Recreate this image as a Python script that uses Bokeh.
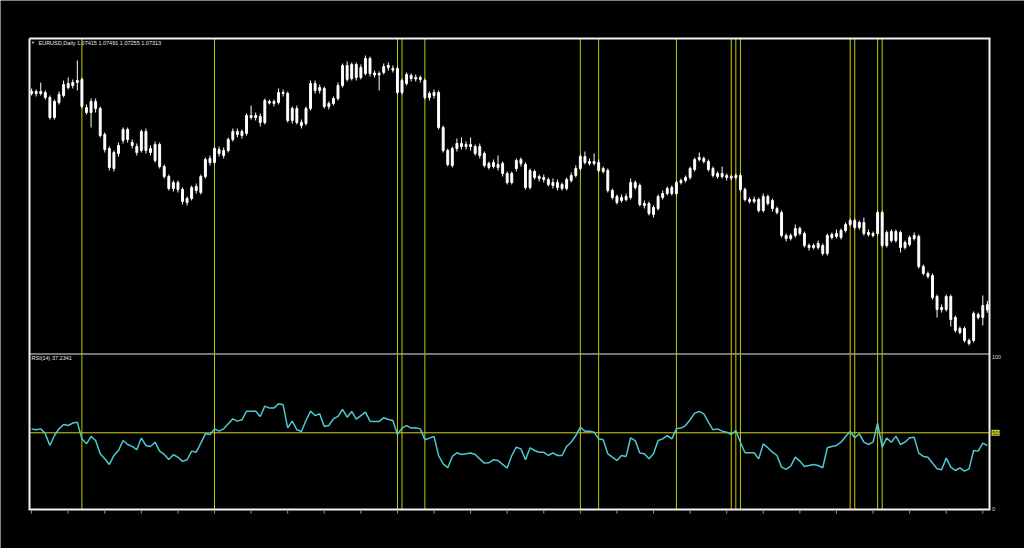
from bokeh.plotting import figure
from bokeh.models import ColumnDataSource, Range1d, Label
from bokeh.embed import file_html
from bokeh.resources import INLINE

# ---------------- data ----------------
title_text = "EURUSD,Daily  1.07415 1.07491 1.07255 1.07313"
rsi_title = "RSI(14) 37.2341"
rsi_level_values = [100, 50, 0]
rsi_level_labels = ["100", "50", "0"]

opens = [1.1164, 1.1168, 1.1164, 1.1166, 1.1156, 1.1116, 1.1146, 1.1160, 1.1176, 1.1180,
         1.1186, 1.1192, 1.1136, 1.1126, 1.1148, 1.1134, 1.1082, 1.1054, 1.1014, 1.1044,
         1.1070, 1.1092, 1.1066, 1.1058, 1.1050, 1.1088, 1.1054, 1.1030, 1.1062, 1.1018,
         1.0998, 1.0974, 1.0986, 1.0972, 1.0954, 1.0954, 1.0978, 1.0966, 1.0998, 1.1026,
         1.1026, 1.1052, 1.1050, 1.1050, 1.1072, 1.1088, 1.1080, 1.1084, 1.1120, 1.1116,
         1.1118, 1.1106, 1.1148, 1.1144, 1.1146, 1.1166, 1.1164, 1.1110, 1.1134, 1.1106,
         1.1104, 1.1134, 1.1184, 1.1170, 1.1174, 1.1144, 1.1144, 1.1154, 1.1180, 1.1220,
         1.1194, 1.1222, 1.1196, 1.1204, 1.1234, 1.1205, 1.1201, 1.1206, 1.1216, 1.1214,
         1.1214, 1.1166, 1.1184, 1.1200, 1.1196, 1.1192, 1.1190, 1.1164, 1.1160, 1.1166,
         1.1096, 1.1050, 1.1020, 1.1054, 1.1064, 1.1058, 1.1062, 1.1058, 1.1058, 1.1044,
         1.1024, 1.1018, 1.1022, 1.1024, 1.1004, 1.0986, 1.1014, 1.1032, 1.1022, 1.0976,
         1.1008, 1.0998, 1.0996, 1.0992, 1.0986, 1.0986, 1.0982, 1.0974, 1.0990, 1.1000,
         1.1014, 1.1038, 1.1024, 1.1028, 1.1026, 1.1014, 1.1010, 1.0970, 1.0958, 1.0950,
         1.0952, 1.0956, 1.0986, 1.0980, 1.0944, 1.0944, 1.0922, 1.0934, 1.0956, 1.0964,
         1.0976, 1.0964, 1.0986, 1.0990, 1.0996, 1.1012, 1.1032, 1.1034, 1.1028, 1.1014,
         1.1004, 1.0998, 1.1000, 1.0998, 1.0996, 1.1000, 1.0972, 1.0952, 1.0948, 1.0952,
         1.0930, 1.0958, 1.0950, 1.0934, 1.0926, 1.0880, 1.0874, 1.0880, 1.0894, 1.0884,
         1.0860, 1.0856, 1.0856, 1.0860, 1.0844, 1.0882, 1.0878, 1.0876, 1.0890, 1.0902,
         1.0910, 1.0896, 1.0906, 1.0886, 1.0884, 1.0884, 1.0926, 1.0860, 1.0888, 1.0870,
         1.0886, 1.0866, 1.0862, 1.0874, 1.0878, 1.0818, 1.0804, 1.0800, 1.0758, 1.0732,
         1.0732, 1.0758, 1.0716, 1.0694, 1.0694, 1.0670, 1.0670, 1.0722, 1.0716, 1.07415]

highs = [1.1174, 1.1172, 1.1186, 1.1170, 1.1160, 1.1152, 1.1168, 1.1190, 1.1196, 1.1192,
         1.1230, 1.1196, 1.1142, 1.1154, 1.1154, 1.1138, 1.1086, 1.1058, 1.1050, 1.1066,
         1.1096, 1.1096, 1.1072, 1.1064, 1.1092, 1.1094, 1.1060, 1.1068, 1.1066, 1.1022,
         1.1002, 1.0990, 1.0990, 1.0976, 1.0958, 1.0980, 1.0984, 1.1002, 1.1036, 1.1040,
         1.1058, 1.1058, 1.1056, 1.1076, 1.1094, 1.1094, 1.1092, 1.1124, 1.1140, 1.1126,
         1.1124, 1.1154, 1.1152, 1.1152, 1.1174, 1.1172, 1.1168, 1.1138, 1.1140, 1.1112,
         1.1138, 1.1190, 1.1190, 1.1182, 1.1178, 1.1148, 1.1158, 1.1186, 1.1224, 1.1228,
         1.1226, 1.1226, 1.1222, 1.1240, 1.1238, 1.1210, 1.1208, 1.1224, 1.1226, 1.1220,
         1.1218, 1.1194, 1.1206, 1.1204, 1.1202, 1.1200, 1.1194, 1.1168, 1.1172, 1.1170,
         1.1100, 1.1054, 1.1058, 1.1074, 1.1076, 1.1068, 1.1076, 1.1062, 1.1064, 1.1048,
         1.1028, 1.1032, 1.1040, 1.1028, 1.1008, 1.1008, 1.1034, 1.1036, 1.1026, 1.1014,
         1.1012, 1.1002, 1.1002, 1.0996, 1.0994, 1.0992, 1.0986, 1.0996, 1.1006, 1.1020,
         1.1042, 1.1048, 1.1034, 1.1044, 1.1032, 1.1018, 1.1014, 1.0974, 1.0962, 1.0962,
         1.0964, 1.0994, 1.0990, 1.0984, 1.0950, 1.0948, 1.0940, 1.0962, 1.0970, 1.0978,
         1.0980, 1.0990, 1.0994, 1.1000, 1.1018, 1.1036, 1.1046, 1.1038, 1.1032, 1.1018,
         1.1008, 1.1018, 1.1004, 1.1002, 1.1004, 1.1004, 1.0976, 1.0956, 1.0958, 1.0956,
         1.0964, 1.0962, 1.0954, 1.0938, 1.0930, 1.0884, 1.0884, 1.0902, 1.0898, 1.0888,
         1.0864, 1.0864, 1.0870, 1.0864, 1.0884, 1.0886, 1.0892, 1.0894, 1.0906, 1.0914,
         1.0914, 1.0910, 1.0916, 1.0892, 1.0888, 1.0930, 1.0930, 1.0890, 1.0892, 1.0892,
         1.0890, 1.0870, 1.0880, 1.0886, 1.0882, 1.0822, 1.0808, 1.0804, 1.0762, 1.0742,
         1.0762, 1.0762, 1.0720, 1.0698, 1.0698, 1.0674, 1.0728, 1.0726, 1.0760, 1.07491]

lows = [1.1160, 1.1158, 1.1160, 1.1152, 1.1112, 1.1112, 1.1142, 1.1156, 1.1172, 1.1174,
        1.1170, 1.1134, 1.1122, 1.1096, 1.1126, 1.1076, 1.1046, 1.1010, 1.1008, 1.1038,
        1.1064, 1.1066, 1.1054, 1.1040, 1.1046, 1.1044, 1.1040, 1.1026, 1.1014, 1.0994,
        1.0970, 1.0968, 1.0966, 1.0942, 1.0940, 1.0950, 1.0964, 1.0962, 1.0994, 1.1020,
        1.1022, 1.1038, 1.1034, 1.1046, 1.1068, 1.1076, 1.1074, 1.1080, 1.1112, 1.1110,
        1.1098, 1.1102, 1.1142, 1.1138, 1.1142, 1.1158, 1.1106, 1.1104, 1.1102, 1.1094,
        1.1100, 1.1130, 1.1164, 1.1164, 1.1134, 1.1132, 1.1140, 1.1150, 1.1176, 1.1188,
        1.1190, 1.1190, 1.1192, 1.1200, 1.1198, 1.1196, 1.1170, 1.1202, 1.1210, 1.1206,
        1.1162, 1.1162, 1.1180, 1.1188, 1.1188, 1.1186, 1.1152, 1.1150, 1.1154, 1.1092,
        1.1046, 1.1018, 1.1016, 1.1048, 1.1052, 1.1052, 1.1050, 1.1040, 1.1034, 1.1016,
        1.1012, 1.1014, 1.1010, 1.0998, 1.0982, 1.0982, 1.1008, 1.1018, 1.0972, 1.0972,
        1.0992, 1.0988, 1.0986, 1.0978, 1.0974, 1.0970, 1.0970, 1.0970, 1.0986, 1.0996,
        1.1010, 1.1022, 1.1020, 1.1020, 1.1006, 1.1004, 1.0966, 1.0952, 1.0942, 1.0946,
        1.0948, 1.0952, 1.0972, 1.0938, 1.0934, 1.0920, 1.0916, 1.0930, 1.0952, 1.0960,
        1.0960, 1.0960, 1.0982, 1.0986, 1.0992, 1.1008, 1.1028, 1.1024, 1.1008, 1.0996,
        1.0994, 1.0994, 1.0990, 1.0990, 1.0992, 1.0968, 1.0948, 1.0944, 1.0944, 1.0926,
        1.0926, 1.0940, 1.0928, 1.0922, 1.0876, 1.0868, 1.0870, 1.0876, 1.0880, 1.0856,
        1.0850, 1.0852, 1.0852, 1.0840, 1.0840, 1.0872, 1.0874, 1.0872, 1.0886, 1.0898,
        1.0892, 1.0892, 1.0880, 1.0878, 1.0876, 1.0880, 1.0856, 1.0856, 1.0866, 1.0866,
        1.0846, 1.0852, 1.0858, 1.0870, 1.0814, 1.0800, 1.0794, 1.0752, 1.0716, 1.0726,
        1.0728, 1.0698, 1.0686, 1.0682, 1.0666, 1.0660, 1.0666, 1.0712, 1.0700, 1.07255]

closes = [1.1168, 1.1164, 1.1168, 1.1156, 1.1116, 1.1148, 1.1162, 1.1182, 1.1184, 1.1186,
          1.1190, 1.1138, 1.1126, 1.1148, 1.1134, 1.1080, 1.1052, 1.1016, 1.1046, 1.1060,
          1.1092, 1.1072, 1.1060, 1.1046, 1.1088, 1.1050, 1.1046, 1.1062, 1.1018, 1.0998,
          1.0974, 1.0986, 1.0972, 1.0948, 1.0946, 1.0976, 1.0970, 1.0998, 1.1032, 1.1034,
          1.1054, 1.1044, 1.1040, 1.1072, 1.1088, 1.1082, 1.1088, 1.1120, 1.1116, 1.1120,
          1.1106, 1.1150, 1.1145, 1.1148, 1.1166, 1.1164, 1.1110, 1.1134, 1.1106, 1.1100,
          1.1134, 1.1184, 1.1170, 1.1176, 1.1138, 1.1138, 1.1154, 1.1180, 1.1220, 1.1192,
          1.1222, 1.1196, 1.1216, 1.1234, 1.1204, 1.1201, 1.1204, 1.1218, 1.1220, 1.1211,
          1.1166, 1.1190, 1.1202, 1.1194, 1.1193, 1.1196, 1.1156, 1.1156, 1.1166, 1.1096,
          1.1050, 1.1022, 1.1054, 1.1064, 1.1058, 1.1062, 1.1058, 1.1044, 1.1040, 1.1020,
          1.1016, 1.1026, 1.1016, 1.1004, 1.0986, 1.1004, 1.1030, 1.1024, 1.0976, 1.1010,
          1.0996, 1.0994, 1.0992, 1.0982, 1.0980, 1.0976, 1.0974, 1.0992, 1.1000, 1.1014,
          1.1038, 1.1026, 1.1028, 1.1024, 1.1010, 1.1008, 1.0970, 1.0956, 1.0946, 1.0956,
          1.0958, 1.0986, 1.0976, 1.0942, 1.0940, 1.0924, 1.0936, 1.0958, 1.0964, 1.0974,
          1.0964, 1.0986, 1.0990, 1.0996, 1.1014, 1.1032, 1.1036, 1.1028, 1.1012, 1.1000,
          1.0998, 1.1004, 1.0996, 1.0995, 1.1000, 1.0972, 1.0952, 1.0948, 1.0952, 1.0930,
          1.0958, 1.0944, 1.0934, 1.0926, 1.0880, 1.0874, 1.0880, 1.0894, 1.0884, 1.0860,
          1.0856, 1.0860, 1.0864, 1.0844, 1.0880, 1.0876, 1.0884, 1.0890, 1.0902, 1.0910,
          1.0896, 1.0906, 1.0884, 1.0882, 1.0880, 1.0926, 1.0860, 1.0886, 1.0870, 1.0888,
          1.0856, 1.0856, 1.0876, 1.0880, 1.0818, 1.0804, 1.0798, 1.0756, 1.0732, 1.0736,
          1.0758, 1.0712, 1.0690, 1.0686, 1.0670, 1.0664, 1.0724, 1.0716, 1.0740, 1.07313]

rsi = [52.6, 52.0, 52.6, 49.3, 41.6, 48.2, 52.6, 55.5, 54.8, 56.4,
       57.0, 46.0, 42.7, 47.6, 44.9, 36.1, 32.8, 29.1, 35.0, 38.3,
       44.9, 42.3, 41.0, 38.8, 46.5, 41.6, 41.0, 43.8, 37.9, 35.7,
       32.4, 35.5, 33.9, 31.1, 32.2, 37.9, 37.2, 43.2, 49.3, 48.9,
       52.6, 51.1, 52.6, 55.9, 59.2, 57.7, 58.6, 64.3, 64.3, 64.3,
       60.8, 67.6, 66.3, 66.3, 69.2, 68.5, 53.3, 57.7, 52.0, 50.9,
       58.1, 64.3, 61.4, 62.5, 54.2, 54.8, 59.2, 60.8, 65.4, 60.3,
       64.1, 59.0, 61.4, 63.7, 57.7, 57.5, 57.5, 59.9, 58.8, 58.1,
       48.9, 53.1, 54.8, 53.1, 53.3, 52.6, 45.4, 46.5, 47.6, 35.0,
       29.5, 26.9, 34.4, 36.8, 35.7, 36.1, 36.6, 35.7, 32.8, 30.0,
       30.2, 32.2, 31.7, 29.1, 26.7, 35.0, 40.5, 39.4, 32.2, 40.1,
       38.3, 37.2, 37.2, 35.0, 36.8, 35.0, 35.0, 41.0, 43.8, 48.2,
       53.7, 51.1, 51.1, 50.4, 46.0, 45.4, 36.1, 33.9, 31.7, 35.0,
       34.4, 46.7, 44.9, 36.6, 36.1, 32.8, 36.1, 44.9, 46.0, 48.2,
       46.0, 52.6, 53.1, 54.8, 58.6, 63.0, 64.1, 62.5, 57.0, 52.0,
       52.6, 51.1, 50.4, 48.9, 51.5, 43.8, 36.8, 36.8, 36.8, 32.8,
       42.7, 40.1, 37.2, 35.0, 27.3, 25.8, 28.0, 33.9, 31.3, 27.8,
       28.4, 29.1, 28.4, 26.9, 40.1, 41.0, 41.6, 43.8, 47.6, 50.9,
       46.7, 49.3, 43.8, 42.3, 43.8, 56.4, 40.5, 46.5, 43.8, 47.8,
       42.3, 43.8, 46.7, 47.1, 36.6, 34.4, 33.9, 30.0, 26.2, 25.6,
       33.3, 27.3, 25.1, 26.9, 24.7, 26.2, 38.3, 37.9, 43.2, 41.6]

rsi_level = 50
vline_bars = [11, 40, 80, 81, 86, 120, 124, 141, 153, 154, 155, 179, 180, 185, 186]
date_tick_bars = list(range(0, len(closes), 8))

# ---------------- layout (screen pixels) ----------------
PAGE_W, PAGE_H = 1024, 548
BORDER_L, BORDER_T, BORDER_R, BORDER_B = 29, 38, 989, 509   # white chart frame
X0_PX, STEP_PX = 31.1, 4.573          # candle 0 centre and bar spacing
PRICE_AT_BORDER_T, PRICE_PER_PX = 1.1274, 0.0002
RSI_ZERO_PX, RSI_PX_PER_UNIT = 508, 1.514
SEPARATOR_PX = 353.5
TICK_LEN_PX = 3


def xpx(px):
    return (px - X0_PX) / STEP_PX


def rpx(py):
    return (RSI_ZERO_PX - py) / RSI_PX_PER_UNIT


def ppx(py):
    return PRICE_AT_BORDER_T - PRICE_PER_PX * (py - BORDER_T)


n = len(closes)
idx = list(range(n))
src = ColumnDataSource(dict(
    x=idx, open=opens, high=highs, low=lows, close=closes,
    top=[max(o, c) for o, c in zip(opens, closes)],
    bottom=[min(o, c) for o, c in zip(opens, closes)],
    rsi=rsi,
))

# the drawing area covers the whole canvas; the chart frame is drawn inside it
p = figure(
    frame_width=PAGE_W, frame_height=PAGE_H,
    x_range=Range1d(xpx(0), xpx(PAGE_W)),
    y_range=Range1d(ppx(PAGE_H), ppx(0)),
    output_backend="svg", toolbar_location=None,
    x_axis_location=None, y_axis_location=None,
    background_fill_color="black", border_fill_color="black",
    min_border=0, outline_line_color=None,
)
p.grid.visible = False
p.extra_y_ranges = {"rsi": Range1d(rpx(PAGE_H), rpx(0))}

# vertical object lines
p.segment(x0=vline_bars, x1=vline_bars,
          y0=[rpx(BORDER_B)] * len(vline_bars), y1=[rpx(BORDER_T)] * len(vline_bars),
          y_range_name="rsi", line_color="#c8c800", line_width=1)
# panel separator
p.segment(x0=[xpx(BORDER_L)], x1=[xpx(BORDER_R)],
          y0=[rpx(SEPARATOR_PX)], y1=[rpx(SEPARATOR_PX)],
          y_range_name="rsi", line_color="#9c9c9c", line_width=1.5)
# RSI 50 level
p.segment(x0=[xpx(BORDER_L)], x1=[xpx(BORDER_R)],
          y0=[rsi_level], y1=[rsi_level],
          y_range_name="rsi", line_color="#d6d600", line_width=1)

# candles
p.segment(x0="x", y0="low", x1="x", y1="high", source=src,
          line_color="white", line_width=1)
p.vbar(x="x", width=0.42, top="top", bottom="bottom", source=src,
       fill_color="white", line_color="white", line_width=1)

# RSI
p.line(x="x", y="rsi", source=src, y_range_name="rsi",
       line_color="#4cc9d3", line_width=1.5)

# white chart frame
p.line(x=[xpx(BORDER_L), xpx(BORDER_R), xpx(BORDER_R), xpx(BORDER_L), xpx(BORDER_L)],
       y=[rpx(BORDER_T), rpx(BORDER_T), rpx(BORDER_B), rpx(BORDER_B), rpx(BORDER_T)],
       y_range_name="rsi", line_color="#f2f2f2", line_width=2, line_join="miter")

# bottom date ticks
p.segment(x0=date_tick_bars, x1=date_tick_bars,
          y0=[rpx(BORDER_B + 1)] * len(date_tick_bars),
          y1=[rpx(BORDER_B + 1 + TICK_LEN_PX)] * len(date_tick_bars),
          y_range_name="rsi", line_color="#a0a0a0", line_width=1)

FONT = "Liberation Sans"
# header
p.add_layout(Label(x=xpx(30.5), y=rpx(42), y_range_name="rsi", text="\u25bc",
                   text_font=FONT, text_font_size="4px", text_color="#e0e0e0",
                   text_baseline="middle", text_align="left"))
p.add_layout(Label(x=xpx(38), y=rpx(42), y_range_name="rsi", text=title_text,
                   text_font=FONT, text_font_size="5.5px", text_color="#e8e8e8",
                   text_baseline="middle", text_align="left"))
p.add_layout(Label(x=xpx(31), y=rpx(357), y_range_name="rsi", text=rsi_title,
                   text_font=FONT, text_font_size="5.5px", text_color="#e8e8e8",
                   text_baseline="middle", text_align="left"))

# right-hand RSI scale labels
for val, txt in zip(rsi_level_values, rsi_level_labels):
    if val == rsi_level:
        p.add_layout(Label(x=xpx(991), y=val, y_range_name="rsi", text=txt,
                           text_font=FONT, text_font_size="5.5px",
                           text_color="#202000", background_fill_color="#cccc33",
                           text_baseline="middle", text_align="left", padding=1))
    else:
        p.add_layout(Label(x=xpx(991.5), y=val, y_range_name="rsi", text=txt,
                           text_font=FONT, text_font_size="5.5px",
                           text_color="#d8d8d8",
                           text_baseline="middle", text_align="left"))

open("out.html", "w").write(file_html(p, INLINE))
